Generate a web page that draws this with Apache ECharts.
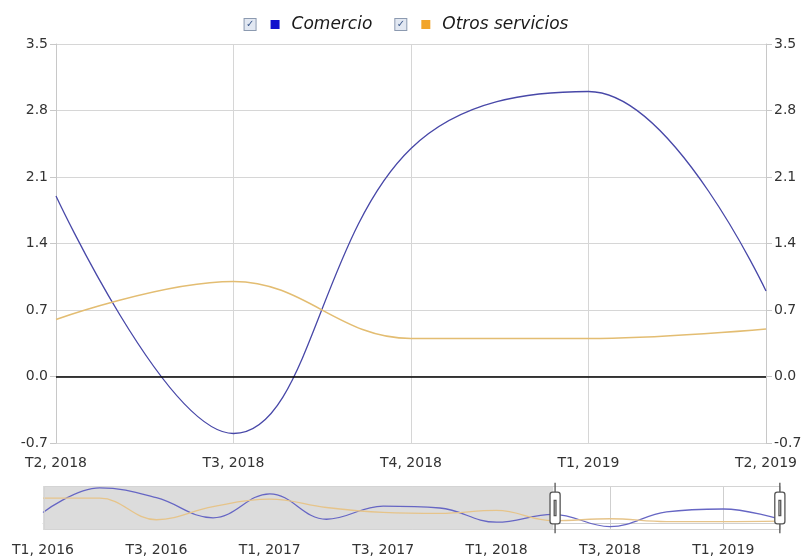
<!DOCTYPE html>
<html>
<head>
<meta charset="utf-8">
<script src="https://cdn.jsdelivr.net/npm/echarts@6/dist/echarts.min.js"></script>
<style>
    body { margin: 0; background: #fff; }
    #echart_canvas { width: 808px; height: 559px; }
</style>
</head>
<body>
<div id="echart_canvas"></div>
<script>
let quarters = ['T1, 2016', 'T2, 2016', 'T3, 2016', 'T4, 2016',
    'T1, 2017', 'T2, 2017', 'T3, 2017', 'T4, 2017',
    'T1, 2018', 'T2, 2018', 'T3, 2018', 'T4, 2018',
    'T1, 2019', 'T2, 2019'];
let comercio = [2.3, 7.3, 5.3, 1.2, 6.1, 0.9, 3.6, 3.2, 0.3, 1.9, -0.6, 2.4, 3.0, 0.9];
let otrosServicios = [5.2, 5.2, 0.8, 3.5, 5.0, 3.3, 2.3, 2.1, 2.7, 0.6, 1.0, 0.4, 0.4, 0.5];
let yTicks = [-0.7, 0.0, 0.7, 1.4, 2.1, 2.8, 3.5];
let zoomStart = 'T2, 2018';
let zoomEnd = 'T2, 2019';

let font = 'DejaVu Sans';
let lineBlue = '#4848a8';
let lineGold = '#e3bd72';

let myChart = echarts.init(document.getElementById('echart_canvas'));

function legendText(name) {
    let sq = name === 'Comercio' ? 'sqA' : 'sqB';
    return '{cb|✓}{s1| }{' + sq + '| }{s2| }{nm|' + name + '}';
}

let yAxisBase = {
    type: 'value',
    min: yTicks[0],
    max: yTicks[yTicks.length - 1],
    interval: 0.7,
    axisLine: {show: true, lineStyle: {color: '#c8c8c8'}},
    axisTick: {show: true, length: 6, lineStyle: {color: '#c8c8c8'}},
    axisLabel: {
        fontFamily: font, fontSize: 14, color: '#333',
        formatter: function (v) { return v.toFixed(1); }
    }
};

let option = {
    animation: false,
    backgroundColor: '#fff',
    legend: {
        top: 11,
        left: 'center',
        icon: 'none',
        itemWidth: 0,
        itemGap: 18,
        selectedMode: false,
        data: ['Comercio', 'Otros servicios'],
        formatter: legendText,
        textStyle: {
            rich: {
                cb: {
                    width: 11, height: 11, lineHeight: 11, align: 'center',
                    borderColor: '#8c9ab0', borderWidth: 1, backgroundColor: '#e2e8f2',
                    color: '#3d5a8c', fontSize: 10, fontFamily: font
                },
                s1: {width: 15},
                s2: {width: 12},
                sqA: {width: 9, height: 9, backgroundColor: '#1010cc'},
                sqB: {width: 9, height: 9, backgroundColor: '#f2a52a'},
                nm: {fontFamily: font, fontSize: 17, fontStyle: 'italic', color: '#1a1a1a'}
            }
        }
    },
    grid: [
        {left: 56, right: 42, top: 44, bottom: 116},
        {left: 43, right: 28, top: 486, height: 44}
    ],
    xAxis: [
        {
            type: 'category',
            gridIndex: 0,
            data: quarters,
            boundaryGap: false,
            axisLine: {lineStyle: {color: '#c8c8c8'}},
            axisTick: {show: false},
            axisLabel: {fontFamily: font, fontSize: 14, color: '#333', margin: 13, interval: 0},
            splitLine: {show: true, lineStyle: {color: '#d6d6d6'}}
        },
        {
            type: 'category',
            gridIndex: 1,
            data: quarters,
            boundaryGap: false,
            axisLine: {lineStyle: {color: '#d0d0d0'}},
            axisTick: {show: false},
            axisLabel: {fontFamily: font, fontSize: 14, color: '#333', margin: 13, interval: 1},
            splitLine: {show: true, interval: 1, lineStyle: {color: '#cfcfcf'}}
        }
    ],
    yAxis: [
        Object.assign({}, yAxisBase, {
            gridIndex: 0,
            position: 'left',
            splitLine: {show: true, lineStyle: {color: '#d6d6d6'}}
        }),
        Object.assign({}, yAxisBase, {
            gridIndex: 0,
            position: 'right',
            splitLine: {show: false}
        }),
        {
            type: 'value',
            gridIndex: 1,
            min: -1.3,
            max: 7.7,
            show: false
        }
    ],
    dataZoom: [{
        type: 'slider',
        xAxisIndex: 0,
        startValue: zoomStart,
        endValue: zoomEnd,
        left: 43,
        right: 28,
        top: 486,
        height: 44,
        showDetail: false,
        showDataShadow: false,
        brushSelect: false,
        backgroundColor: 'rgba(0,0,0,0)',
        fillerColor: 'rgba(0,0,0,0)',
        borderColor: '#d4d4d4',
        moveHandleSize: 0,
        moveHandleStyle: {opacity: 0},
        handleIcon: 'path://M-9.35,34.56V42m0-40V9.5m-2,0h4a2,2,0,0,1,2,2v21a2,2,0,0,1-2,2h-4a2,2,0,0,1-2-2v-21A2,2,0,0,1-11.35,9.5Z M-10.05,16h1.4v12h-1.4Z',
        handleSize: '115%',
        handleStyle: {color: '#fff', borderColor: '#555', borderWidth: 1.3},
        emphasis: {handleStyle: {borderColor: '#555'}}
    }],
    series: [
        {
            name: 'Comercio',
            type: 'line',
            xAxisIndex: 0,
            yAxisIndex: 0,
            data: comercio,
            smooth: 0.4,
            showSymbol: false,
            lineStyle: {color: lineBlue, width: 1.3},
            itemStyle: {color: lineBlue},
            markLine: {
                silent: true,
                symbol: 'none',
                label: {show: false},
                lineStyle: {color: '#000', width: 1.5, type: 'solid'},
                data: [{yAxis: 0}]
            }
        },
        {
            name: 'Otros servicios',
            type: 'line',
            xAxisIndex: 0,
            yAxisIndex: 0,
            data: otrosServicios,
            smooth: 0.4,
            showSymbol: false,
            lineStyle: {color: lineGold, width: 1.6},
            itemStyle: {color: lineGold}
        },
        {
            name: 'Comercio',
            type: 'line',
            xAxisIndex: 1,
            yAxisIndex: 2,
            data: comercio,
            smooth: 0.4,
            showSymbol: false,
            silent: true,
            lineStyle: {color: '#6666c4', width: 1.3},
            markArea: {
                silent: true,
                itemStyle: {color: '#dcdcdc'},
                data: [[{xAxis: quarters[0]}, {xAxis: zoomStart}]]
            }
        },
        {
            name: 'Otros servicios',
            type: 'line',
            xAxisIndex: 1,
            yAxisIndex: 2,
            data: otrosServicios,
            smooth: 0.4,
            showSymbol: false,
            silent: true,
            lineStyle: {color: '#e6c48a', width: 1.3}
        }
    ]
};

myChart.setOption(option);
</script>
</body>
</html>
